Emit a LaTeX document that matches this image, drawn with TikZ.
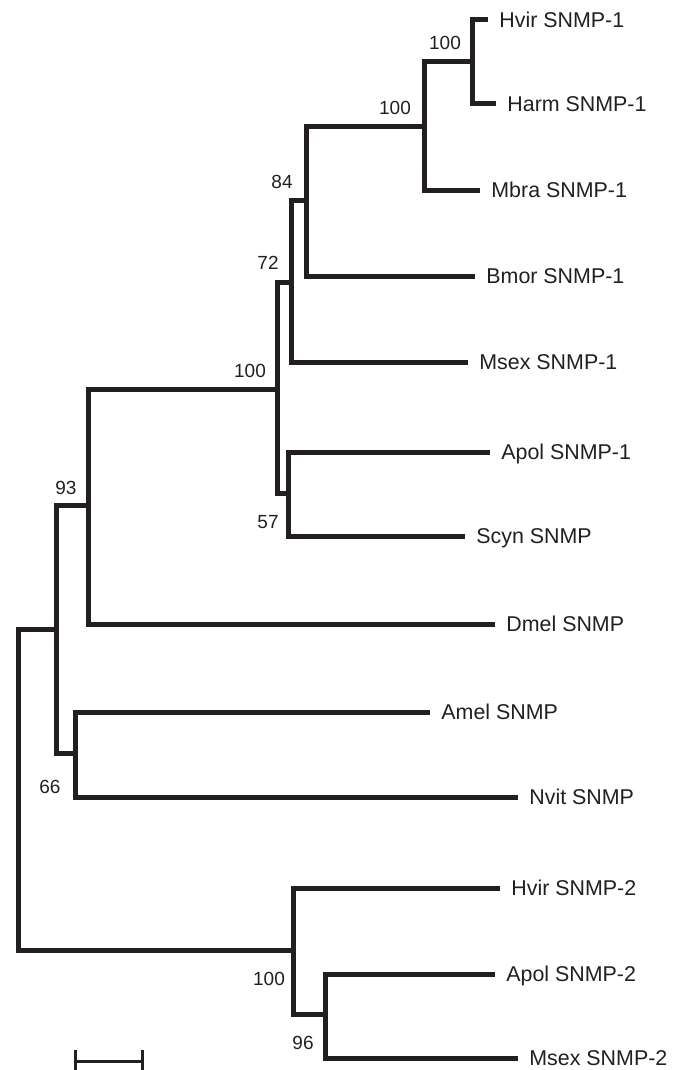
\documentclass[tikz,border=0pt]{standalone}
\usepackage{fontspec}
\setmainfont{Liberation Sans}
\usetikzlibrary{positioning}
\definecolor{inkblack}{RGB}{35,31,32}
\tikzset{
    branch/.style={draw=inkblack, line width=2.5pt, line join=miter},  % tree branches
    scalebar/.style={draw=inkblack, line width=1.5pt},
    leaf/.style={inkblack, font=\fontsize{10.7}{12}\selectfont, inner sep=0pt,
        text height=7.6pt, text depth=0pt},
    boot/.style={inkblack, font=\fontsize{9.5}{11}\selectfont, inner sep=0pt,
        text height=6.8pt, text depth=0pt},
}

\begin{document}
\begin{tikzpicture}[x=0.5pt, y=-0.5pt]
    \useasboundingbox (0,0) rectangle (685,1070);
    % internal nodes
    \coordinate (root) at (18,790);
    \coordinate (nA) at (56,629);
    \coordinate (n93) at (88,505);
    \coordinate (n66) at (75,753);
    \coordinate (nB) at (277,389);
    \coordinate (n72) at (291,282);
    \coordinate (n84) at (306,200);
    \coordinate (nC) at (424,127);
    \coordinate (nD) at (472,62);
    \coordinate (n57) at (288.5,493);
    \coordinate (nE) at (293,950);
    \coordinate (n96) at (325,1014);
    % tips and names
    \foreach \id/\x/\y/\txt in {hvir1/488/20/Hvir SNMP-1, harm1/496/104/Harm SNMP-1,
        mbra1/480/190/Mbra SNMP-1, bmor1/475/276/Bmor SNMP-1, msex1/468/362/Msex SNMP-1,
        apol1/490/452/Apol SNMP-1, scyn/465/536/Scyn SNMP, dmel/495/624/Dmel SNMP,
        amel/430/712/Amel SNMP, nvit/518/797/Nvit SNMP, hvir2/500/888/Hvir SNMP-2,
        apol2/495/974/Apol SNMP-2, msex2/518/1058/Msex SNMP-2}
    {
        \coordinate (\id-tip) at (\x,\y);
        \node[leaf, right=5.5pt of \id-tip] (\id) {\txt};
    }
    % branches
    \foreach \a/\b in {root/nA, root/nE, nA/n93, nA/n66, n93/nB, n93/dmel-tip,
        nB/n72, nB/n57, n72/n84, n72/msex1-tip, n84/nC, n84/bmor1-tip,
        nC/nD, nC/mbra1-tip, nD/hvir1-tip, nD/harm1-tip, n57/apol1-tip, n57/scyn-tip,
        n66/amel-tip, n66/nvit-tip, nE/hvir2-tip, nE/n96, n96/apol2-tip, n96/msex2-tip}
        \draw[branch] (\a) |- (\b);
    % bootstrap values
    \node[boot] (bD) at (445,43) {100};
    \node[boot] (bC) at (395,108) {100};
    \node[boot] (b84) at (282,182) {84};
    \node[boot] (b72) at (268,263) {72};
    \node[boot] (bB) at (250,371) {100};
    \node[boot] (b57) at (268,522) {57};
    \node[boot] (b93) at (66,488) {93};
    \node[boot] (b66) at (50,787) {66};
    \node[boot] (bE) at (269,979) {100};
    \node[boot] (b96) at (303,1043) {96};
    % scale bar
    \coordinate (barL) at (75,1061);
    \coordinate (barR) at (142,1061);
    \draw[scalebar] (barL) -- (barR);
    \draw[scalebar] ([yshift=5.5pt]barL) -- ([yshift=-5pt]barL);
    \draw[scalebar] ([yshift=5.5pt]barR) -- ([yshift=-5pt]barR);
\end{tikzpicture}
\end{document}
